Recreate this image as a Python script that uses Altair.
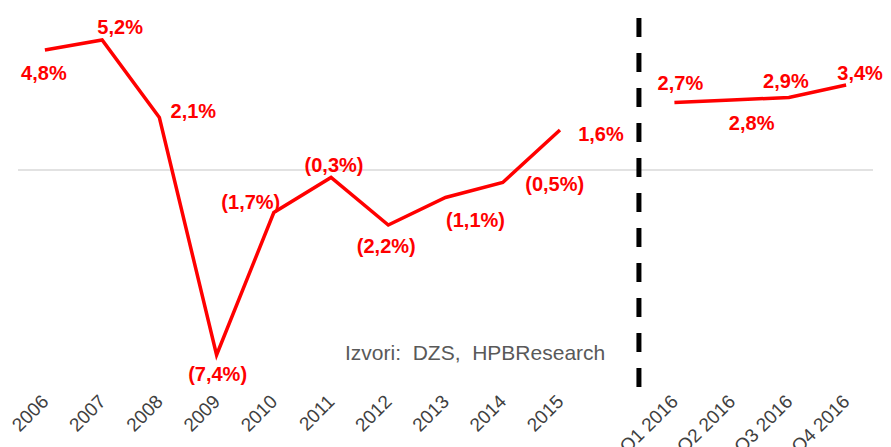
import altair as alt
import pandas as pd

categories = ["2006", "2007", "2008", "2009", "2010", "2011", "2012", "2013", "2014", "2015",
              "Q1 2016", "Q2 2016", "Q3 2016", "Q4 2016"]
positions = [0, 1, 2, 3, 4, 5, 6, 7, 8, 9, 11, 12, 13, 14]
values = [4.8, 5.2, 2.1, -7.4, -1.7, -0.3, -2.2, -1.1, -0.5, 1.6, 2.7, 2.8, 2.9, 3.4]
labels = ["4,8%", "5,2%", "2,1%", "(7,4%)", "(1,7%)", "(0,3%)", "(2,2%)", "(1,1%)", "(0,5%)", "1,6%",
          "2,7%", "2,8%", "2,9%", "3,4%"]
groups = ["annual"] * 10 + ["quarterly"] * 4
separator = 10.38
source_text = "Izvori:\u00a0 DZS,\u00a0 HPBResearch"

df = pd.DataFrame({"cat": categories, "pos": positions, "value": values,
                   "label": labels, "grp": groups})

FONT = "Liberation Sans"
RED = "#ff0000"

# label offsets (dx, dy) in pixels relative to each point
offsets = {
    "2006": (-1, 24), "2007": (18, -12), "2008": (34, -6), "2009": (1, 20),
    "2010": (-23, -10), "2011": (3, -12), "2012": (-2, 22), "2013": (30, 23),
    "2014": (52, 2), "2015": (41, 5), "Q1 2016": (6, -19), "Q2 2016": (20, 24),
    "Q3 2016": (-3, -16), "Q4 2016": (14, -11),
}

lab_arr = [""] * 15
for c, p in zip(categories, positions):
    lab_arr[p] = c
label_expr = "[" + ",".join("'" + s + "'" for s in lab_arr) + "][datum.value]"

xscale = alt.Scale(domain=[-0.47, 14.47], nice=False, zero=False)
yscale = alt.Scale(domain=[-8.72, 6.08], nice=False, zero=False)

x_axis = alt.Axis(values=positions, labelExpr=label_expr, labelAngle=315,
                  labelAlign="right", labelBaseline="middle", labelPadding=10,
                  labelOverlap=False, labelBound=False, labelFlush=False,
                  labelFont=FONT, labelFontSize=19, labelColor="#404040",
                  domain=False, ticks=False, grid=False, title=None)


def xe(field):
    return alt.X(field, scale=xscale, axis=x_axis)


y_enc = alt.Y("value:Q", scale=yscale, axis=None)

base = alt.Chart(df)

zero = alt.Chart(pd.DataFrame({"z": [0]})).mark_rule(color="#d9d9d9", strokeWidth=1.5).encode(
    y=alt.Y("z:Q", scale=yscale, axis=None))

sep = alt.Chart(pd.DataFrame({"s": [separator]})).mark_rule(
    color="black", strokeWidth=5, strokeDash=[19, 16]).encode(x=xe("s:Q"))

line = base.mark_line(color=RED, strokeWidth=3.5).encode(
    x=xe("pos:Q"), y=y_enc, detail="grp:N")

text_layers = []
for c in categories:
    dx, dy = offsets[c]
    text_layers.append(
        base.transform_filter(alt.datum.cat == c).mark_text(
            font=FONT, fontSize=20, fontWeight="bold", color=RED, dx=dx, dy=dy,
            align="center", baseline="middle").encode(
            x=xe("pos:Q"), y=y_enc, text="label:N"))

src = alt.Chart(pd.DataFrame({"t": [source_text]})).mark_text(
    font=FONT, fontSize=21, color="#595959", align="left", baseline="middle").encode(
    x=alt.value(327), y=alt.value(336), text="t:N")

chart = alt.layer(zero, sep, line, *text_layers, src).properties(
    width=855, height=370,
    autosize=alt.AutoSizeParams(type="none"),
    padding={"left": 10, "top": 10, "right": 10, "bottom": 62},
).configure_view(stroke=None)

chart.save("out.html", embed_options={"renderer": "svg", "actions": False})
